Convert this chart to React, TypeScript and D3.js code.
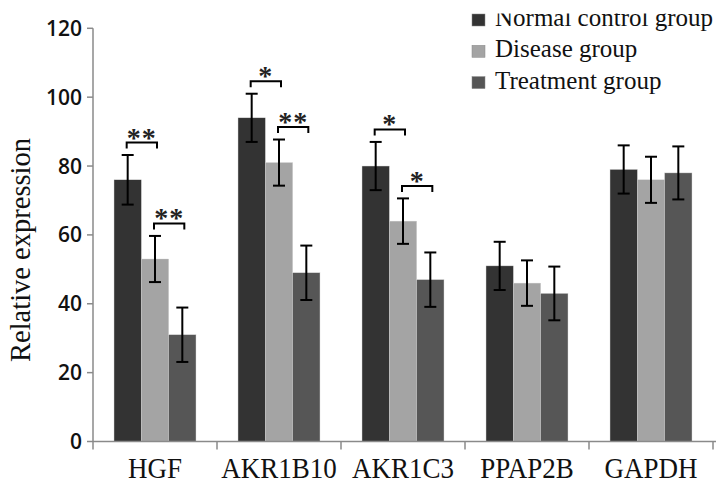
import React from "react";
import * as d3 from "d3";

const categories = ["HGF", "AKR1B10", "AKR1C3", "PPAP2B", "GAPDH"];
const seriesNames = ["Normal control group", "Disease group", "Treatment group"];
const normalValues = [76, 94, 80, 51, 79];
const normalErrors = [7.2, 7, 7, 7, 7];
const diseaseValues = [53, 81, 64, 46, 76];
const diseaseErrors = [6.7, 6.7, 6.6, 6.6, 6.7];
const treatmentValues = [31, 49, 47, 43, 78];
const treatmentErrors = [7.9, 7.9, 7.9, 7.8, 7.7];
const yTicks = [0, 20, 40, 60, 80, 100, 120];
const comparisonCats = ["HGF", "HGF", "AKR1B10", "AKR1B10", "AKR1C3", "AKR1C3"];
const comparisonFrom = [0, 1, 0, 1, 0, 1];
const comparisonTo = [1, 2, 1, 2, 1, 2];
const comparisonLabels = ["**", "**", "*", "**", "*", "*"];

const colors = ["#333333", "#a4a4a4", "#565656"];

export default function App() {
  const W = 724, H = 487;
  const values = [normalValues, diseaseValues, treatmentValues];
  const errors = [normalErrors, diseaseErrors, treatmentErrors];

  const y = d3.scaleLinear().domain([0, 120]).range([441.5, 28.3]);
  const x = d3.scaleBand<string>().domain(categories).range([93, 713]).paddingInner(0.339).paddingOuter(0.1695);
  const inner = d3.scaleBand<number>().domain([0, 1, 2]).range([0, x.bandwidth()]);
  const bw = inner.bandwidth();

  const serif = "'Liberation Serif', 'Times New Roman', serif";
  const axisColor = "#8a8a8a";

  const barCenter = (cat: string, s: number) => (x(cat) as number) + (inner(s) as number) + bw / 2;

  return (
    <svg width={W} height={H} style={{ position: "absolute", left: 0, top: 0, background: "#fff" }}>
      {/* bars */}
      {values.map((vals, s) =>
        categories.map((c, i) => (
          <rect key={`b${s}-${i}`} x={(x(c) as number) + (inner(s) as number)} y={y(vals[i])}
            width={bw} height={y(0) - y(vals[i])} fill={colors[s]} stroke="#cfcfcf" strokeWidth={0.4} />
        ))
      )}
      {/* error bars */}
      {values.map((vals, s) =>
        categories.map((c, i) => {
          const cx = barCenter(c, s);
          const t = y(vals[i] + errors[s][i]);
          const b = y(vals[i] - errors[s][i]);
          return (
            <g key={`e${s}-${i}`} stroke="#000" strokeWidth={2}>
              <line x1={cx} x2={cx} y1={t} y2={b} />
              <line x1={cx - 6} x2={cx + 6} y1={t} y2={t} />
              <line x1={cx - 6} x2={cx + 6} y1={b} y2={b} />
            </g>
          );
        })
      )}
      {/* significance brackets */}
      {comparisonCats.map((c, k) => {
        const i = categories.indexOf(c);
        const a = comparisonFrom[k], b = comparisonTo[k];
        const x1 = barCenter(c, a) - 1;
        const x2 = barCenter(c, b) + 2;
        const by = y(values[a][i] + errors[a][i]) - 12.5;
        return (
          <g key={`s${k}`}>
            <path d={`M${x1},${by + 6}V${by}H${x2}V${by + 6}`} fill="none" stroke="#000" strokeWidth={2} />
            <text x={(x1 + x2) / 2} y={by + 4} textAnchor="middle" fontFamily={serif} fontSize={28}
              fontWeight="bold" letterSpacing={1} fill="#222">{comparisonLabels[k]}</text>
          </g>
        );
      })}
      {/* y axis */}
      <line x1={93} x2={93} y1={y(120)} y2={y(0)} stroke={axisColor} strokeWidth={1.5} />
      {yTicks.map((t) => (
        <g key={`yt${t}`}>
          <line x1={87} x2={93} y1={y(t)} y2={y(t)} stroke={axisColor} strokeWidth={1.5} />
          <text x={82} y={y(t)} dy="0.36em" textAnchor="end" fontFamily="'Open Sans', sans-serif"
            fontWeight={600} fontSize={21} fill="#111">{t}</text>
        </g>
      ))}
      {/* x axis */}
      <line x1={93} x2={716} y1={y(0)} y2={y(0)} stroke={axisColor} strokeWidth={1.5} />
      {[...categories.map((c) => x(c) as number - x.step() * 0.1695), 713].map((tx, k) => (
        <line key={`xt${k}`} x1={tx} x2={tx} y1={y(0)} y2={y(0) + 8} stroke={axisColor} strokeWidth={1.5} />
      ))}
      {categories.map((c) => (
        <text key={`xl${c}`} transform={`translate(${(x(c) as number) + x.bandwidth() / 2},478) scale(0.9,1)`}
          textAnchor="middle" fontFamily={serif} fontSize={30} fill="#111">{c}</text>
      ))}
      {/* y title */}
      <text transform={`translate(30,250) rotate(-90)`} textAnchor="middle" fontFamily={serif}
        fontSize={28.5} fill="#111">Relative expression</text>
      {/* legend */}
      {seriesNames.map((n, s) => (
        <g key={`lg${s}`}>
          <rect x={472} y={14 + s * 31.3} width={13} height={12} fill={colors[s]} stroke="#888" strokeWidth={0.5} />
          <text x={495} y={26 + s * 31.3} fontFamily={serif} fontSize={25} fill="#111">{n}</text>
        </g>
      ))}
      <rect x={492} y={0} width={232} height={13.5} fill="#fff" />
    </svg>
  );
}
